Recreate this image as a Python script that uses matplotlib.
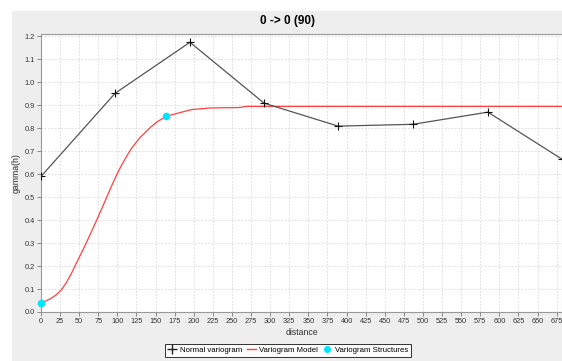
import matplotlib.pyplot as plt
from matplotlib.patches import Rectangle
from matplotlib.lines import Line2D

# Experimental variogram (lag distance, gamma)
lag_dist = [0, 97, 195, 292, 389, 487, 585, 682]
lag_gamma = [0.59, 0.952, 1.174, 0.909, 0.809, 0.817, 0.870, 0.665]

# Fitted model
model_dist = [0, 7, 13.5, 20, 26.6, 33, 39.7, 46, 52.8, 59.4, 65.9, 72.5, 79, 85.6,
              92, 98.7, 105, 111.8, 118, 124.9, 131, 138, 144, 153, 164,
              182, 197, 221, 260, 269, 682]
model_gamma = [0.04, 0.049, 0.060, 0.075, 0.096, 0.127, 0.167, 0.211, 0.256, 0.302,
               0.349, 0.397, 0.446, 0.496, 0.546, 0.595, 0.636, 0.676, 0.710, 0.740,
               0.764, 0.786, 0.806, 0.830, 0.852,
               0.868, 0.881, 0.888, 0.890, 0.895, 0.895]

# Structure points
struct_dist = [0, 164]
struct_gamma = [0.04, 0.852]

plt.rcParams['font.family'] = ['Liberation Sans Narrow', 'Liberation Sans', 'DejaVu Sans']

W, H = 562, 361
fig = plt.figure(figsize=(W / 100, H / 100), dpi=100)
fig.patch.set_facecolor('white')

# Gray panel behind the chart
fig.patches.append(Rectangle((12 / W, 0), 1 - 12 / W, 1 - 11 / H, transform=fig.transFigure,
                             facecolor='#eeeeee', edgecolor='none', zorder=-5))

ax = fig.add_axes([41 / W, 1 - 312 / H, (W - 41) / W, (312 - 34) / H])
ax.set_zorder(1)
ax.set_facecolor('white')

ax.plot(model_dist, model_gamma, color='#ff4040', linewidth=0.9, zorder=3)
ax.plot(lag_dist, lag_gamma, color='#555555', linewidth=0.9, marker='+',
        markersize=6, markeredgecolor='#111111', markeredgewidth=0.8, zorder=4)
ax.plot(struct_dist, struct_gamma, linestyle='none', marker='o', markersize=4.5,
        color='#00e5ff', zorder=5, clip_on=False)

ax.set_xlim(0, 682)
ax.set_ylim(0, 1.21)
ax.set_xticks(range(0, 676, 25))
ax.set_yticks([i / 10 for i in range(13)])
ax.set_yticklabels([f'{i / 10:.1f}' for i in range(13)])
ax.tick_params(labelsize=5.3, length=3, width=0.6, color='#777777', labelcolor='#333333', pad=1.5)
ax.grid(True, color='#d8d8d8', linestyle=(0, (2, 2)), linewidth=0.6)
for s in ax.spines.values():
    s.set_color('#999999')
    s.set_linewidth(0.8)

ax.set_xlabel('distance', fontsize=6.3, labelpad=2, color='#333333')
ax.set_ylabel('gamma(h)', fontsize=6.3, labelpad=3, color='#333333')
fig.text(287 / W, 1 - 21 / H, '0 -> 0 (90)', ha='center', va='center',
         fontsize=8.5, fontweight='bold')

handles = [
    Line2D([], [], color='#222222', marker='+', linestyle='none', markersize=7),
    Line2D([], [], color='#ff4040', linewidth=1),
    Line2D([], [], color='#00e5ff', marker='o', linestyle='none', markersize=4),
]
labels = ['Normal variogram', 'Variogram Model', 'Variogram Structures']
leg = fig.legend(handles, labels, loc='upper center', bbox_to_anchor=(288 / W, 1 - 344 / H),
                 ncol=3, fontsize=5.6, frameon=True, fancybox=False, edgecolor='black',
                 borderpad=0.35, handlelength=1.2, handletextpad=0.4, columnspacing=0.6,
                 borderaxespad=0)
leg.get_frame().set_linewidth(0.7)

plt.savefig('out.png', dpi=100)
